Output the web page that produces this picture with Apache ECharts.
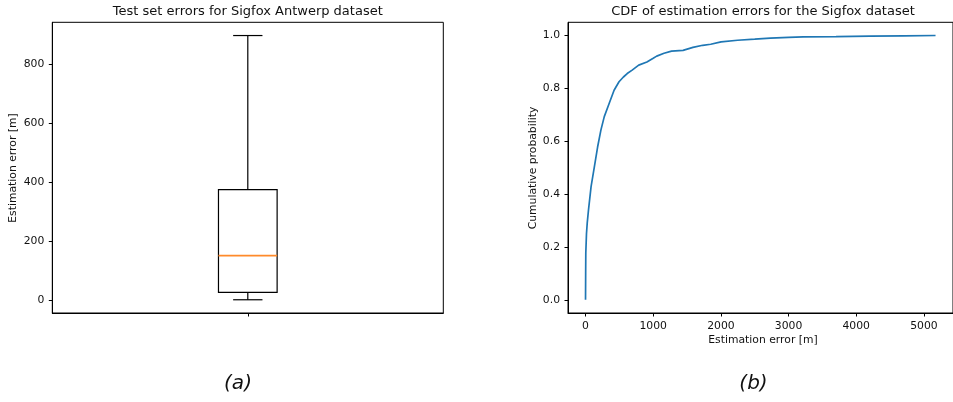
<!DOCTYPE html>
<html>
<head>
<meta charset="utf-8">
<script src="https://cdn.jsdelivr.net/npm/echarts@6/dist/echarts.min.js"></script>
<style>
html,body{margin:0;padding:0;background:#fff;}
#chart{width:953px;height:402px;}
</style>
</head>
<body>
<div id="chart"></div>
<script>
// ---- data ----
const boxPositions = [1];
// whisker low, Q1, median, Q3, whisker high
const boxStats = [0, 25, 150, 374, 898];
const yTicksA = [0, 200, 400, 600, 800];
const xTicksA = [1];

const cdfError = [0, 2, 4, 14, 25, 44, 82, 131, 179, 227, 277, 349, 422, 495, 560, 616, 689, 786, 907, 1000, 1052, 1160, 1271, 1441, 1587, 1732, 1850, 2003, 2246, 2500, 2731, 3000, 3217, 3702, 4200, 4700, 5172];
const cdfProb  = [0, 0.10, 0.176, 0.25, 0.29, 0.34, 0.428, 0.504, 0.579, 0.642, 0.693, 0.743, 0.793, 0.825, 0.843, 0.856, 0.869, 0.888, 0.900, 0.914, 0.922, 0.933, 0.941, 0.944, 0.955, 0.963, 0.967, 0.976, 0.982, 0.986, 0.990, 0.993, 0.995, 0.996, 0.998, 0.999, 1.0];
const yTicksB = [0, 0.2, 0.4, 0.6, 0.8, 1.0];
const xTicksB = [0, 1000, 2000, 3000, 4000, 5000];

const titleA = 'Test set errors for Sigfox Antwerp dataset';
const titleB = 'CDF of estimation errors for the Sigfox dataset';
const yNameA = 'Estimation error [m]';
const yNameB = 'Cumulative probability';
const xNameB = 'Estimation error [m]';
const captionA = '(a)';
const captionB = '(b)';

// ---- chart ----
const FONT = 'DejaVu Sans';
const TXT = '#111';
const chart = echarts.init(document.getElementById('chart'), null, {renderer: 'canvas'});

const axisCommon = {
  axisLine: {show: true, onZero: false, lineStyle: {color: '#000', width: 1}},
  splitLine: {show: false},
  axisTick: {show: true, length: 3.5, lineStyle: {color: '#000', width: 1}},
  axisLabel: {color: TXT, fontFamily: FONT, fontSize: 10.8, margin: 8}
};

function deep(o, extra) { return echarts.util.merge(echarts.util.clone(o), extra, true); }

const boxData = boxPositions.map((p, i) => [p].concat(boxStats));

const option = {
  animation: false,
  backgroundColor: '#fff',
  grid: [
    {left: 52.3, right: 509.7, top: 22.3, bottom: 89, show: true, borderColor: '#000', borderWidth: 1, containLabel: false},
    {left: 568, right: -5.8, top: 22.3, bottom: 89, show: true, borderColor: '#000', borderWidth: 1, containLabel: false}
  ],
  xAxis: [
    deep(axisCommon, {gridIndex: 0, type: 'value', min: 0.5, max: 1.5,
      axisTick: {customValues: xTicksA}, axisLabel: {show: false, customValues: xTicksA}}),
    deep(axisCommon, {gridIndex: 1, type: 'value', min: -259, max: 5430,
      axisTick: {customValues: xTicksB}, axisLabel: {customValues: xTicksB, formatter: v => String(v)}})
  ],
  yAxis: [
    deep(axisCommon, {gridIndex: 0, type: 'value', min: -45, max: 943,
      axisTick: {customValues: yTicksA}, axisLabel: {customValues: yTicksA, formatter: v => String(v)}}),
    deep(axisCommon, {gridIndex: 1, type: 'value', min: -0.05, max: 1.05,
      axisTick: {customValues: yTicksB}, axisLabel: {customValues: yTicksB, formatter: v => v.toFixed(1)}})
  ],
  series: [
    {
      type: 'custom',
      xAxisIndex: 0, yAxisIndex: 0,
      data: boxData,
      renderItem: function (params, api) {
        const x = api.value(0);
        const lo = api.value(1), q1 = api.value(2), med = api.value(3), q3 = api.value(4), hi = api.value(5);
        const hw = 0.075, cw = 0.0375;
        const pLT = api.coord([x - hw, q3]);
        const pRB = api.coord([x + hw, q1]);
        const line = (a, b, color, w) => ({
          type: 'line',
          shape: {x1: a[0], y1: a[1], x2: b[0], y2: b[1]},
          style: {stroke: color, lineWidth: w || 1.2}
        });
        return {
          type: 'group',
          children: [
            line(api.coord([x, q1]), api.coord([x, lo]), '#000'),
            line(api.coord([x, q3]), api.coord([x, hi]), '#000'),
            line(api.coord([x - cw, lo]), api.coord([x + cw, lo]), '#000'),
            line(api.coord([x - cw, hi]), api.coord([x + cw, hi]), '#000'),
            {
              type: 'rect',
              shape: {x: pLT[0], y: pLT[1], width: pRB[0] - pLT[0], height: pRB[1] - pLT[1]},
              style: {fill: 'none', stroke: '#000', lineWidth: 1.2}
            },
            line(api.coord([x - hw, med]), api.coord([x + hw, med]), '#ff8a2b', 1.6)
          ]
        };
      }
    },
    {
      type: 'line',
      xAxisIndex: 1, yAxisIndex: 1,
      data: cdfError.map((e, i) => [e, cdfProb[i]]),
      showSymbol: false,
      symbol: 'none',
      smooth: false,
      lineStyle: {color: '#1f77b4', width: 1.7},
      clip: true
    }
  ],
  graphic: [
    {type: 'text', x: 247.8, y: 11.5, style: {text: titleA, font: '13px "DejaVu Sans"', fill: TXT, align: 'center', verticalAlign: 'middle'}},
    {type: 'text', x: 763, y: 11.5, style: {text: titleB, font: '13px "DejaVu Sans"', fill: TXT, align: 'center', verticalAlign: 'middle'}},
    {type: 'text', x: 13.5, y: 168, rotation: Math.PI / 2, style: {text: yNameA, font: '10.8px "DejaVu Sans"', fill: TXT, align: 'center', verticalAlign: 'middle'}},
    {type: 'text', x: 533, y: 168, rotation: Math.PI / 2, style: {text: yNameB, font: '10.8px "DejaVu Sans"', fill: TXT, align: 'center', verticalAlign: 'middle'}},
    {type: 'text', x: 763, y: 340.5, style: {text: xNameB, font: '10.8px "DejaVu Sans"', fill: TXT, align: 'center', verticalAlign: 'middle'}},
    {type: 'text', x: 238, y: 384, style: {text: captionA, font: 'italic 20px "DejaVu Sans"', fill: TXT, align: 'center', verticalAlign: 'middle'}},
    {type: 'text', x: 753.5, y: 384, style: {text: captionB, font: 'italic 20px "DejaVu Sans"', fill: TXT, align: 'center', verticalAlign: 'middle'}}
  ]
};
chart.setOption(option);
</script>
</body>
</html>
